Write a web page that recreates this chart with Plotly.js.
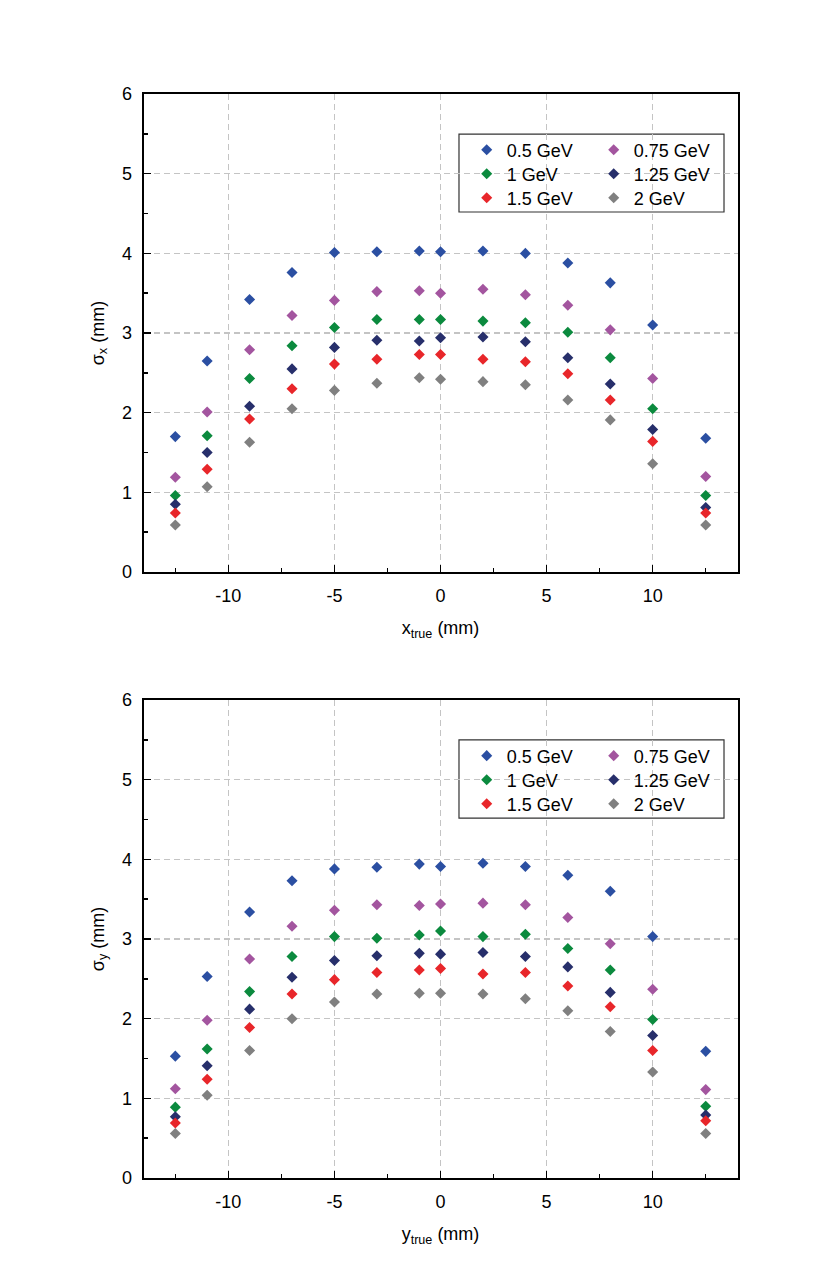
<html>
<head>
    <meta charset="UTF-8">
    <script src="https://cdn.plot.ly/plotly-3.0.1.min.js"></script>
</head>
<body style="margin: 0; background-color: white;">
    <div id="plot" style="width: 830px; height: 1278px;"></div>

    <script>
        // beam position (mm)
        const positions = [-12.5, -11, -9, -7, -5, -3, -1, 0, 2, 4, 6, 8, 10, 12.5];

        const energies = ['0.5 GeV', '0.75 GeV', '1 GeV', '1.25 GeV', '1.5 GeV', '2 GeV'];
        const colors = ['#2b4fa2', '#a3559f', '#0b8a3e', '#272f6b', '#e8262a', '#808080'];

        // sigma_x (mm), top panel
        const sigX_05 = [1.70, 2.65, 3.42, 3.76, 4.01, 4.02, 4.03, 4.02, 4.03, 4.00, 3.88, 3.63, 3.10, 1.68];
        const sigX_075 = [1.19, 2.01, 2.79, 3.22, 3.41, 3.52, 3.53, 3.50, 3.55, 3.48, 3.35, 3.04, 2.43, 1.20];
        const sigX_1 = [0.96, 1.71, 2.43, 2.84, 3.07, 3.17, 3.17, 3.17, 3.15, 3.13, 3.01, 2.69, 2.05, 0.96];
        const sigX_125 = [0.85, 1.50, 2.08, 2.55, 2.82, 2.91, 2.90, 2.94, 2.95, 2.89, 2.69, 2.36, 1.79, 0.81];
        const sigX_15 = [0.74, 1.29, 1.92, 2.30, 2.61, 2.67, 2.73, 2.73, 2.67, 2.64, 2.49, 2.16, 1.64, 0.74];
        const sigX_2 = [0.59, 1.07, 1.63, 2.05, 2.28, 2.37, 2.44, 2.42, 2.39, 2.35, 2.16, 1.91, 1.36, 0.59];

        // sigma_y (mm), bottom panel
        const sigY_05 = [1.53, 2.53, 3.34, 3.73, 3.88, 3.90, 3.94, 3.91, 3.95, 3.91, 3.80, 3.60, 3.03, 1.59];
        const sigY_075 = [1.12, 1.98, 2.75, 3.16, 3.36, 3.43, 3.42, 3.44, 3.45, 3.43, 3.27, 2.94, 2.37, 1.11];
        const sigY_1 = [0.89, 1.62, 2.34, 2.78, 3.03, 3.01, 3.05, 3.10, 3.03, 3.06, 2.88, 2.61, 1.99, 0.90];
        const sigY_125 = [0.77, 1.41, 2.12, 2.52, 2.73, 2.79, 2.82, 2.81, 2.83, 2.78, 2.65, 2.33, 1.79, 0.79];
        const sigY_15 = [0.69, 1.24, 1.89, 2.31, 2.49, 2.58, 2.61, 2.63, 2.56, 2.58, 2.41, 2.15, 1.60, 0.72];
        const sigY_2 = [0.56, 1.04, 1.60, 2.00, 2.21, 2.31, 2.32, 2.32, 2.31, 2.25, 2.10, 1.84, 1.33, 0.56];

        const xTicks = [-10, -5, 0, 5, 10];
        const xTickLabels = ['-10', '-5', '0', '5', '10'];
        const yTicks = [0, 1, 2, 3, 4, 5, 6];

        const topSeries = [sigX_05, sigX_075, sigX_1, sigX_125, sigX_15, sigX_2];
        const bottomSeries = [sigY_05, sigY_075, sigY_1, sigY_125, sigY_15, sigY_2];

        const font = { family: 'Liberation Sans, Arial, sans-serif', size: 18, color: 'black' };

        // one horizontal legend per legend row (two entries each)
        function makeTraces(series, xaxis, yaxis, legends) {
            return series.map(function (ys, i) {
                return {
                    x: positions,
                    y: ys,
                    name: energies[i],
                    type: 'scatter',
                    mode: 'markers',
                    xaxis: xaxis,
                    yaxis: yaxis,
                    legend: legends[Math.floor(i / 2)],
                    marker: { symbol: 'diamond', size: 8.5, color: colors[i], line: { width: 0 } }
                }
            });
        }

        const data = makeTraces(topSeries, 'x', 'y', ['legend', 'legend2', 'legend3'])
            .concat(makeTraces(bottomSeries, 'x2', 'y2', ['legend4', 'legend5', 'legend6']));

        const common = {
            ticks: 'inside',
            ticklen: 7,
            tickwidth: 1.5,
            tickcolor: 'black',
            showline: true,
            linewidth: 2,
            linecolor: 'black',
            mirror: true,
            showgrid: true,
            gridcolor: '#c4c4c4',
            gridwidth: 1.2,
            griddash: '6px,4px',
            zeroline: false,
            ticklabelstandoff: 6,
            tickfont: font
        };

        function xAxis(title, anchor, domain) {
            return Object.assign({}, common, {
                domain: domain,
                anchor: anchor,
                range: [-14, 14],
                tickvals: xTicks,
                ticktext: xTickLabels,
                minor: { dtick: 2.5, ticks: 'inside', ticklen: 4, tickwidth: 1.5, tickcolor: 'black', showgrid: false },
                title: { text: title, font: font, standoff: 17 }
            })
        }

        function yAxis(title, anchor, domain) {
            return Object.assign({}, common, {
                domain: domain,
                anchor: anchor,
                range: [0, 6],
                tickvals: yTicks,
                minor: { dtick: 0.5, ticks: 'inside', ticklen: 4, tickwidth: 1.5, tickcolor: 'black', showgrid: false },
                title: { text: title, font: font, standoff: 13 }
            })
        }

        function legendAt(y) {
            return {
                x: 0.5623, y: y, xanchor: 'left', yanchor: 'middle',
                orientation: 'h', entrywidth: 82,
                bgcolor: 'rgba(0,0,0,0)', borderwidth: 0,
                font: font, itemclick: false
            }
        }

        function legendBox(y0, y1) {
            return {
                type: 'rect', xref: 'paper', yref: 'paper',
                x0: 0.553, x1: 0.8723, y0: y0, y1: y1,
                fillcolor: 'white', line: { color: '#333', width: 1.2 },
                layer: 'between'
            }
        }

        const layout = {
            width: 830,
            height: 1278,
            margin: { l: 0, r: 0, t: 0, b: 0 },
            paper_bgcolor: 'white',
            plot_bgcolor: 'white',
            font: font,
            xaxis: xAxis('x<sub>true</sub> (mm)', 'y', [0.1729, 0.8886]),
            yaxis: yAxis('σ<sub>x</sub> (mm)', 'x', [0.5524, 0.9264]),
            xaxis2: xAxis('y<sub>true</sub> (mm)', 'y2', [0.1729, 0.8886]),
            yaxis2: yAxis('σ<sub>y</sub> (mm)', 'x2', [0.0782, 0.4523]),
            legend: legendAt(0.8826),
            legend2: legendAt(0.8638),
            legend3: legendAt(0.8451),
            legend4: legendAt(0.4085),
            legend5: legendAt(0.3897),
            legend6: legendAt(0.3709),
            shapes: [legendBox(0.8341, 0.8951), legendBox(0.3599, 0.421)]
        };

        Plotly.newPlot('plot', data, layout, { staticPlot: true });
    </script>
</body>
</html>
